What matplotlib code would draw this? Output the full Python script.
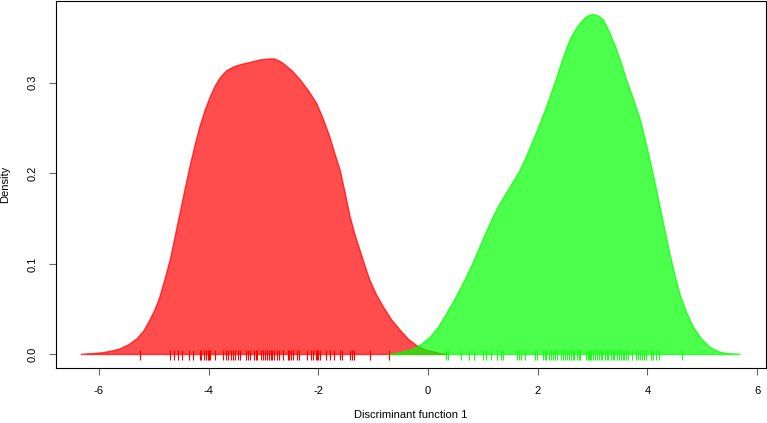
import matplotlib
matplotlib.use("Agg")
import matplotlib.pyplot as plt

plt.rcParams['font.family'] = ['Liberation Sans', 'DejaVu Sans']
plt.rcParams['font.size'] = 8

# density curve of group 1 (red)
red_x = [-6.32, -6.10, -5.92, -5.75, -5.62, -5.45, -5.31, -5.18, -5.07, -4.98,
         -4.89, -4.80, -4.70, -4.61, -4.52, -4.43, -4.34, -4.25, -4.16, -4.06,
         -3.97, -3.88, -3.79, -3.67, -3.55, -3.40, -3.25, -3.05, -2.90, -2.80,
         -2.72, -2.64, -2.48, -2.33, -2.18, -2.03, -1.91, -1.79, -1.70, -1.60,
         -1.51, -1.42, -1.33, -1.24, -1.15, -1.06, -0.94, -0.81, -0.66, -0.51,
         -0.36, -0.21, -0.05, 0.10, 0.23, 0.36]
red_y = [0.000, 0.001, 0.002, 0.004, 0.006, 0.011, 0.017, 0.026, 0.038, 0.049,
         0.063, 0.082, 0.104, 0.130, 0.156, 0.182, 0.207, 0.230, 0.251, 0.270,
         0.284, 0.296, 0.305, 0.313, 0.317, 0.320, 0.322, 0.325, 0.326, 0.326,
         0.324, 0.321, 0.313, 0.303, 0.291, 0.277, 0.260, 0.240, 0.222, 0.203,
         0.178, 0.152, 0.132, 0.115, 0.098, 0.082, 0.066, 0.052, 0.038, 0.027,
         0.017, 0.010, 0.005, 0.003, 0.001, 0.000]

# density curve of group 2 (green)
green_x = [-0.73, -0.50, -0.27, -0.12, 0.04, 0.19, 0.34, 0.49, 0.64, 0.80,
           0.95, 1.07, 1.19, 1.31, 1.43, 1.55, 1.68, 1.80, 1.92, 2.04,
           2.16, 2.29, 2.41, 2.50, 2.59, 2.68, 2.77, 2.86, 2.94, 3.01,
           3.08, 3.14, 3.20, 3.32, 3.44, 3.53, 3.62, 3.75, 3.87, 3.96,
           4.05, 4.14, 4.23, 4.32, 4.41, 4.50, 4.59, 4.71, 4.84, 4.99,
           5.14, 5.30, 5.45, 5.69]
green_y = [0.000, 0.002, 0.006, 0.011, 0.019, 0.030, 0.045, 0.061, 0.078, 0.098,
           0.119, 0.136, 0.152, 0.166, 0.178, 0.190, 0.203, 0.219, 0.236, 0.254,
           0.273, 0.295, 0.317, 0.333, 0.347, 0.357, 0.365, 0.371, 0.374, 0.375,
           0.374, 0.372, 0.369, 0.354, 0.336, 0.320, 0.303, 0.281, 0.259, 0.237,
           0.214, 0.189, 0.163, 0.137, 0.111, 0.088, 0.067, 0.047, 0.030, 0.017,
           0.008, 0.003, 0.001, 0.000]

# individual scores (rug)
red_rug = [-5.25, -4.70, -4.63, -4.55, -4.49, -4.35, -4.29, -4.16, -4.13, -4.09,
           -4.05, -4.02, -4.00, -3.98, -3.88, -3.73, -3.69, -3.65, -3.60, -3.56,
           -3.51, -3.47, -3.42, -3.32, -3.29, -3.25, -3.18, -3.14, -3.11, -3.04,
           -3.00, -2.97, -2.93, -2.89, -2.87, -2.84, -2.81, -2.75, -2.71, -2.64,
           -2.56, -2.53, -2.49, -2.46, -2.38, -2.35, -2.20, -2.14, -2.09, -2.05,
           -2.03, -2.01, -1.96, -1.86, -1.79, -1.71, -1.61, -1.56, -1.43, -1.39,
           -1.35, -1.06, -0.71]
green_rug = [0.32, 0.37, 0.60, 0.74, 0.84, 1.00, 1.06, 1.14, 1.25, 1.33,
             1.36, 1.62, 1.65, 1.69, 1.76, 1.95, 1.98, 2.09, 2.13, 2.16,
             2.20, 2.24, 2.27, 2.31, 2.35, 2.42, 2.46, 2.49, 2.53, 2.57,
             2.60, 2.64, 2.67, 2.71, 2.75, 2.78, 2.88, 2.91, 2.93, 2.95,
             2.98, 3.00, 3.04, 3.08, 3.11, 3.15, 3.18, 3.22, 3.26, 3.29,
             3.33, 3.37, 3.40, 3.44, 3.48, 3.51, 3.55, 3.57, 3.61, 3.65,
             3.71, 3.79, 3.83, 3.87, 3.90, 3.94, 3.98, 4.07, 4.11, 4.15,
             4.22, 4.63]

x_ticks = [-6, -4, -2, 0, 2, 4, 6]
y_ticks = [0.0, 0.1, 0.2, 0.3]

red = (1, 0, 0, 0.7)
green = (0, 1, 0, 0.7)

fig = plt.figure(figsize=(7.67, 4.23), dpi=100)
ax = fig.add_axes([56 / 767, 55 / 423, 710 / 767, 367 / 423])

ax.fill(red_x, red_y, facecolor=red, edgecolor=red, lw=1.0, joinstyle='round')
ax.fill(green_x, green_y, facecolor=green, edgecolor=green, lw=1.0, joinstyle='round')
ax.vlines(red_rug, -0.0066, 0.0052, color='red', lw=0.8)
ax.vlines(green_rug, -0.0066, 0.0052, color=(0.1, 1, 0.1), lw=0.8)

ax.set_xlim(-6.782, 6.162)
ax.set_ylim(-0.0149, 0.3899)
ax.set_xticks(x_ticks)
ax.set_xticklabels([str(t) for t in x_ticks])
ax.set_yticks(y_ticks)
ax.set_yticklabels(['%.1f' % t for t in y_ticks], rotation=90, va='center')
ax.tick_params(length=5, width=0.8, color='#666666')
ax.tick_params(axis='x', pad=8)
ax.tick_params(axis='y', pad=8)
for s in ax.spines.values():
    s.set_linewidth(0.8)
    s.set_color('black')

ax.set_xlabel('Discriminant function 1', va='center')
ax.set_ylabel('Density', va='center')
ax.xaxis.set_label_coords(0.5, -0.128)
ax.yaxis.set_label_coords(-0.072, 0.5)

fig.savefig('out.png', dpi=100)
